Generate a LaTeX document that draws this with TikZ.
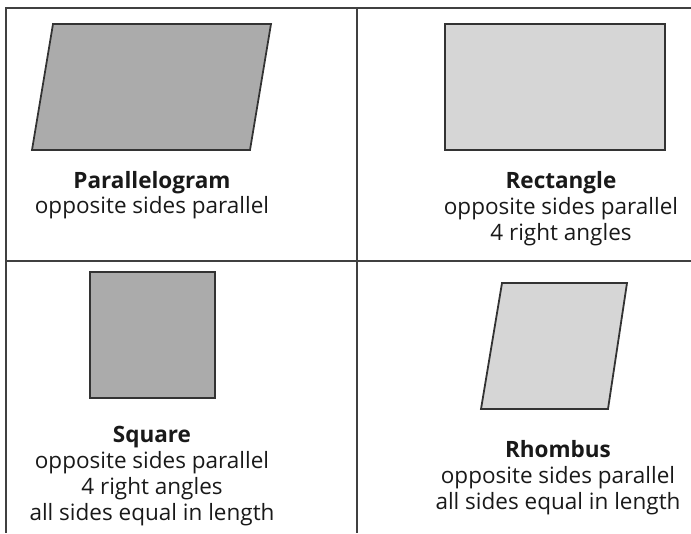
\documentclass[tikz,border=0pt]{standalone}
\usepackage{fontspec}
\setmainfont{Open Sans}
\begin{document}
\begin{tikzpicture}[x=1pt,y=-1pt,
  grid/.style={draw=black!75,line width=1.3pt},
  shapedark/.style={draw=black!80,line width=1.8pt,fill=black!33},
  shapelight/.style={draw=black!80,line width=1.8pt,fill=black!16},
  lbl/.style={font=\fontsize{22.5}{27}\selectfont,anchor=base,inner sep=0pt,text=black!90},
  head/.style={lbl,font=\fontsize{22.5}{27}\selectfont\bfseries}]
\useasboundingbox (0,0) rectangle (691,533);
% grid
\coordinate (tl) at (6,8);
\coordinate (tr) at (691,8);
\coordinate (bl) at (6,533);
\coordinate (tm) at (357,8);
\coordinate (bm) at (357,533);
\coordinate (ml) at (6,261);
\coordinate (mr) at (691,261);
\draw[grid] (tr) -- (tl) -- (bl);
\draw[grid] (tm) -- (bm);
\draw[grid] (ml) -- (mr);
% shapes
\draw[shapedark] (53,24) -- (271,24) -- (250,150) -- (32,150) -- cycle;
\draw[shapelight] (445,24) rectangle (665,150);
\draw[shapedark] (90,272) rectangle (215,398);
\draw[shapelight] (502,283) -- (627,283) -- (608,409) -- (481,409) -- cycle;
% texts
\node[head] (p1) at (152,188) {Parallelogram};
\node[lbl] (p2) at (152,213) {opposite sides parallel};
\node[head] (r1) at (561,188) {Rectangle};
\node[lbl] (r2) at (561,214) {opposite sides parallel};
\node[lbl] (r3) at (561,240) {4 right angles};
\node[head] (s1) at (152,442) {Square};
\node[lbl] (s2) at (152,468) {opposite sides parallel};
\node[lbl] (s3) at (152,494) {4 right angles};
\node[lbl] (s4) at (152,520) {all sides equal in length};
\node[head] (h1) at (558,457) {Rhombus};
\node[lbl] (h2) at (558,483) {opposite sides parallel};
\node[lbl] (h3) at (558,509) {all sides equal in length};
\end{tikzpicture}
\end{document}
